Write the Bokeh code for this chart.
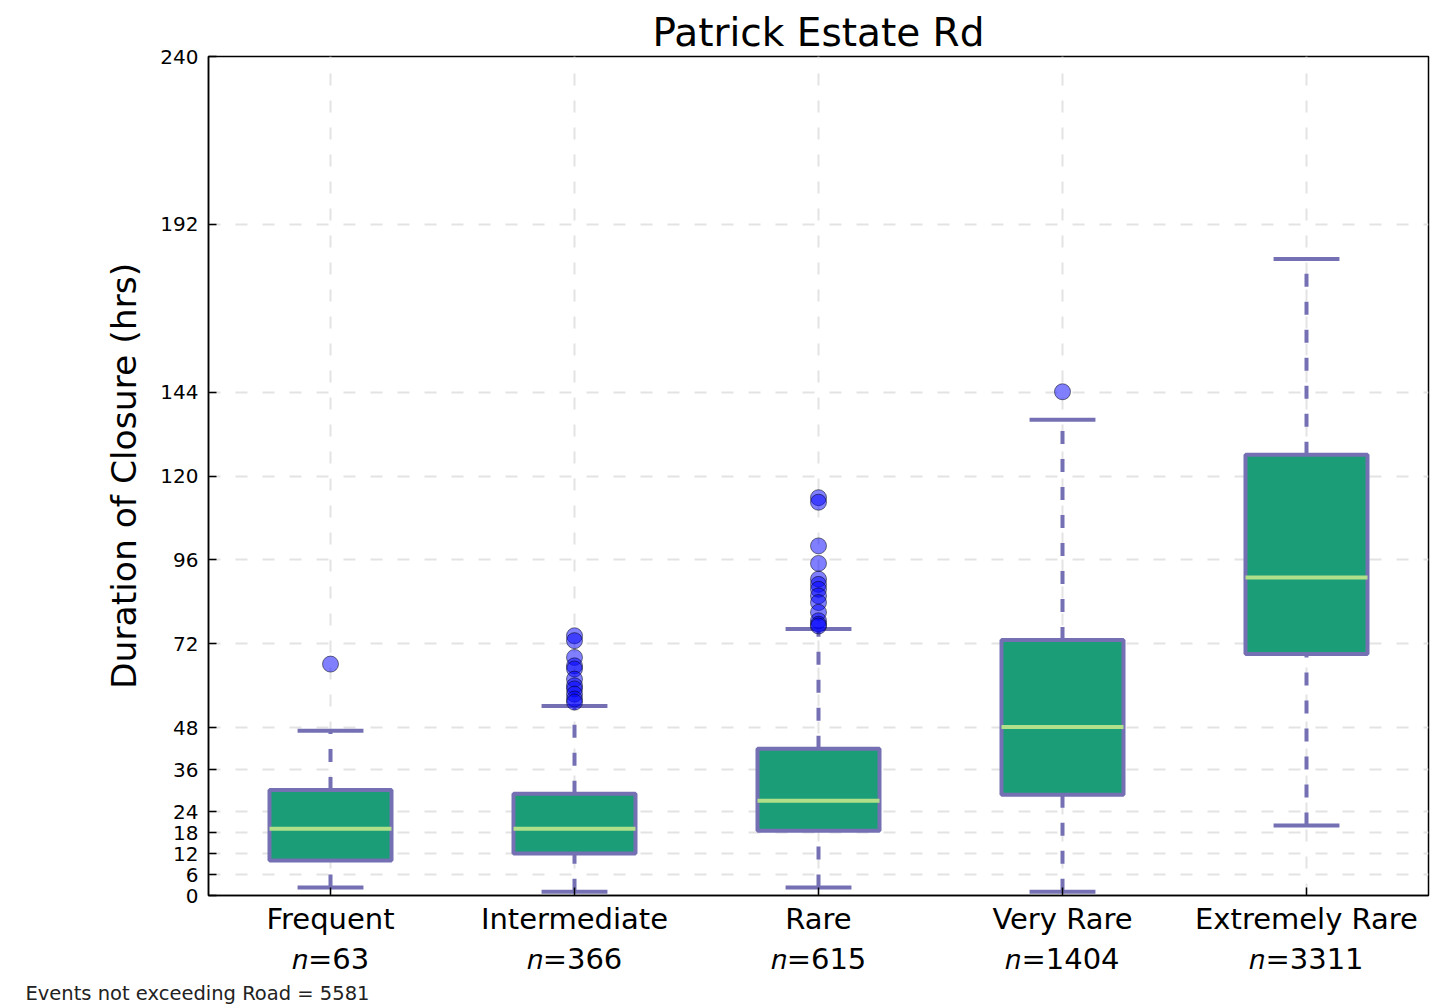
from bokeh.plotting import figure
from bokeh.models import FixedTicker, Title, ColumnDataSource
from bokeh.embed import file_html
from bokeh.resources import INLINE

categories = ["Frequent", "Intermediate", "Rare", "Very Rare", "Extremely Rare"]
counts = [63, 366, 615, 1404, 3311]
q1 = [10.0, 12.0, 18.5, 28.8, 69.1]
median = [19.1, 19.1, 27.1, 48.2, 91.0]
q3 = [30.2, 29.1, 42.0, 73.1, 126.1]
whisker_low = [2.3, 1.1, 2.3, 1.1, 20.0]
whisker_high = [47.1, 54.2, 76.2, 136.1, 182.1]
outliers = [
    [66.2],
    [74.3, 72.9, 68.1, 65.7, 64.8, 61.9, 60.0, 59.1, 57.6, 56.2, 55.3],
    [113.8, 112.5, 100.0, 95.0, 90.5, 89.0, 87.6, 85.7, 83.8, 81.0, 78.6, 77.6, 77.1],
    [144.1],
    [],
]
y_ticks = [0, 6, 12, 18, 24, 36, 48, 72, 96, 120, 144, 192, 240]
footer = "Events not exceeding Road = 5581"

FONT = "DejaVu Sans"
BOX_FILL = "#1b9e77"
BOX_LINE = "#7570b3"
MED = "#b2df8a"

xs = list(range(1, len(categories) + 1))

p = figure(width=1444, height=1004, x_range=(0.5, 5.5), y_range=(0, 240),
           output_backend="svg", toolbar_location=None,
           min_border_left=208, min_border_right=16, min_border_top=56, min_border_bottom=107)

p.title.text = "Patrick Estate Rd"
p.title.align = "center"
p.title.text_font = FONT
p.title.text_font_size = "39px"
p.title.text_font_style = "normal"
p.title.text_color = "black"
p.title.standoff = 4

p.add_layout(Title(text=footer, align="left", offset=-183, standoff=0, text_font=FONT,
                   text_font_size="19.5px", text_font_style="normal", text_color="#222222"), "below")

# grid
p.xgrid.ticker = FixedTicker(ticks=xs)
p.ygrid.ticker = FixedTicker(ticks=y_ticks)
p.grid.grid_line_color = "#e3e3e3"
p.grid.grid_line_dash = "12 15"
p.grid.grid_line_width = 2

# axes
p.xaxis.ticker = FixedTicker(ticks=xs)
p.xaxis.major_label_overrides = {x: f"{c}\n\U0001D45B={n}" for x, c, n in zip(xs, categories, counts)}
p.xaxis.major_label_text_font = FONT
p.xaxis.major_label_text_font_size = "29px"
p.xaxis.major_label_text_color = "black"
p.xaxis.major_label_standoff = 6
p.yaxis.ticker = FixedTicker(ticks=y_ticks)
p.yaxis.major_label_text_font = FONT
p.yaxis.major_label_text_font_size = "20px"
p.yaxis.major_label_text_color = "black"
p.yaxis.major_label_standoff = 10
p.yaxis.axis_label = "Duration of Closure (hrs)"
p.yaxis.axis_label_text_font = FONT
p.yaxis.axis_label_text_font_size = "34.5px"
p.yaxis.axis_label_text_font_style = "normal"
p.yaxis.axis_label_text_color = "black"
p.yaxis.axis_label_standoff = 13
for ax in (p.xaxis, p.yaxis):
    ax.major_tick_in = 8
    ax.major_tick_out = 0
    ax.minor_tick_line_color = None
    ax.axis_line_color = "black"
    ax.axis_line_width = 1.5
    ax.major_tick_line_color = "black"
    ax.major_tick_line_width = 1.5
p.outline_line_color = "black"
p.outline_line_width = 1.5
p.outline_line_alpha = 1

src = ColumnDataSource(dict(x=xs, q1=q1, med=median, q3=q3, lo=whisker_low, hi=whisker_high,
                            cl=[x - 0.135 for x in xs], cr=[x + 0.135 for x in xs],
                            bl=[x - 0.25 for x in xs], br=[x + 0.25 for x in xs]))

# whiskers
p.segment(x0="x", y0="q3", x1="x", y1="hi", source=src, line_color=BOX_LINE, line_width=4, line_dash="13 15")
p.segment(x0="x", y0="lo", x1="x", y1="q1", source=src, line_color=BOX_LINE, line_width=4, line_dash="13 15")
# caps
p.segment(x0="cl", y0="hi", x1="cr", y1="hi", source=src, line_color=BOX_LINE, line_width=4)
p.segment(x0="cl", y0="lo", x1="cr", y1="lo", source=src, line_color=BOX_LINE, line_width=4)
# boxes
p.vbar(x="x", width=0.5, bottom="q1", top="q3", source=src, fill_color=BOX_FILL, line_color=BOX_LINE, line_width=4)
# medians
p.segment(x0="bl", y0="med", x1="br", y1="med", source=src, line_color=MED, line_width=4)

# outliers
ox, oy = [], []
for x, vals in zip(xs, outliers):
    for v in vals:
        ox.append(x)
        oy.append(v)
p.scatter(ox, oy, size=16, fill_color="#0000ff", fill_alpha=0.5, line_color="black", line_alpha=0.5, line_width=1)

open("out.html", "w").write(file_html(p, INLINE))
